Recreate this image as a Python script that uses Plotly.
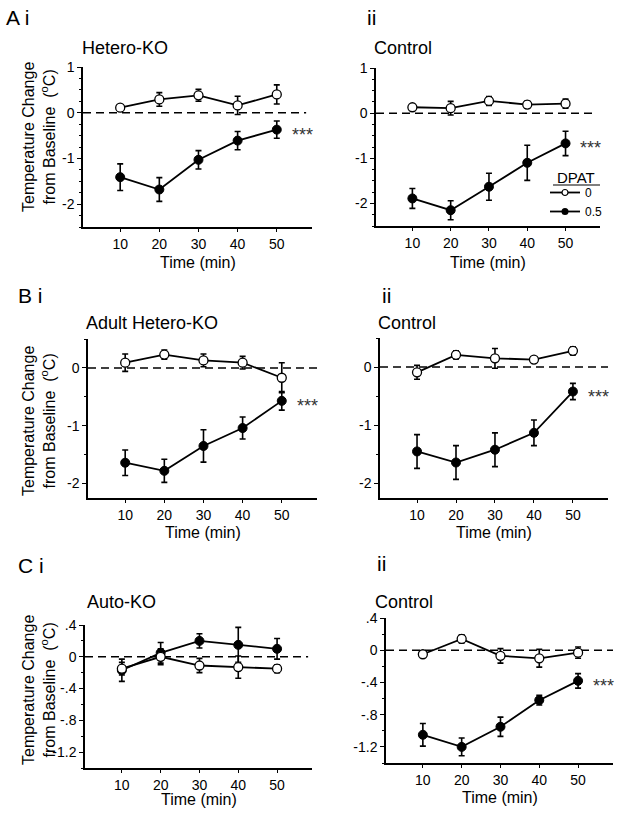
import plotly.graph_objects as go

W, H = 621, 818
FONT = "Arial, Liberation Sans, sans-serif"

time_min = [10, 20, 30, 40, 50]

# Panel A i: Hetero-KO
ai_veh = [0.11, 0.29, 0.38, 0.16, 0.40]
ai_veh_err = [0.06, 0.15, 0.13, 0.20, 0.21]
ai_dpat = [-1.41, -1.68, -1.03, -0.61, -0.37]
ai_dpat_err = [0.29, 0.26, 0.20, 0.20, 0.19]
# Panel A ii: Control
aii_veh = [0.13, 0.11, 0.27, 0.19, 0.21]
aii_veh_err = [0.06, 0.15, 0.10, 0.08, 0.10]
aii_dpat = [-1.89, -2.15, -1.63, -1.10, -0.67]
aii_dpat_err = [0.22, 0.21, 0.30, 0.39, 0.27]
# Panel B i: Adult Hetero-KO
bi_veh = [0.09, 0.23, 0.13, 0.09, -0.17]
bi_veh_err = [0.15, 0.08, 0.11, 0.11, 0.26]
bi_dpat = [-1.64, -1.78, -1.35, -1.04, -0.57]
bi_dpat_err = [0.22, 0.20, 0.28, 0.19, 0.16]
# Panel B ii: Control
bii_veh = [-0.09, 0.21, 0.15, 0.13, 0.28]
bii_veh_err = [0.12, 0.07, 0.17, 0.03, 0.07]
bii_dpat = [-1.45, -1.64, -1.42, -1.13, -0.42]
bii_dpat_err = [0.29, 0.29, 0.29, 0.22, 0.14]
# Panel C i: Auto-KO
ci_veh = [-0.15, 0.00, -0.11, -0.13, -0.15]
ci_veh_err = [0.08, 0.10, 0.09, 0.14, 0.05]
ci_dpat = [-0.17, 0.05, 0.20, 0.15, 0.10]
ci_dpat_err = [0.14, 0.13, 0.09, 0.22, 0.13]
# Panel C ii: Control
cii_veh = [-0.05, 0.14, -0.07, -0.10, -0.03]
cii_veh_err = [0.03, 0.05, 0.09, 0.11, 0.07]
cii_dpat = [-1.05, -1.20, -0.95, -0.62, -0.38]
cii_dpat_err = [0.14, 0.11, 0.12, 0.06, 0.09]

dose_labels = ["0", "0.5"]
legend_title = "DPAT"
x_title = "Time (min)"
y_title = "Temperature Change<br>from Baseline  (<sup>o</sup>C)"
x_ticks = [10, 20, 30, 40, 50]

ticks_A = [1, 0, -1, -2]
ticks_A_text = ["1", "0", "-1", "-2"]
ticks_B = [0, -1, -2]
ticks_B_text = ["0", "-1", "-2"]
ticks_C = [0.4, 0, -0.4, -0.8, -1.2]
ticks_C_text = [".4", "0", "-.4", "-.8", "-1.2"]

panels = [
    dict(letter="A i", title="Hetero-KO", veh=ai_veh, veh_err=ai_veh_err, dpat=ai_dpat, dpat_err=ai_dpat_err,
         sig=True, px=(83, 312), py=(67, 227), yr=[-2.5, 1], tv=ticks_A, tt=ticks_A_text, minor=0.25,
         letter_pos=(4, 17), title_pos=(80, 48), xt_y=262, dash_end=57.5),
    dict(letter="ii", title="Control", veh=aii_veh, veh_err=aii_veh_err, dpat=aii_dpat, dpat_err=aii_dpat_err,
         sig=True, px=(376, 600), py=(68, 226), yr=[-2.5, 1], tv=ticks_A, tt=ticks_A_text, minor=0.25,
         letter_pos=(365, 17), title_pos=(372, 48), xt_y=262, dash_end=58),
    dict(letter="B i", title="Adult Hetero-KO", veh=bi_veh, veh_err=bi_veh_err, dpat=bi_dpat, dpat_err=bi_dpat_err,
         sig=True, px=(88, 317), py=(339, 498), yr=[-2.25, 0.5], tv=ticks_B, tt=ticks_B_text, minor=0.5,
         letter_pos=(16, 295), title_pos=(84, 323), xt_y=532, dash_end=59),
    dict(letter="ii", title="Control", veh=bii_veh, veh_err=bii_veh_err, dpat=bii_dpat, dpat_err=bii_dpat_err,
         sig=True, px=(380, 608), py=(338, 498), yr=[-2.25, 0.5], tv=ticks_B, tt=ticks_B_text, minor=0.5,
         letter_pos=(380, 295), title_pos=(376, 323), xt_y=532, dash_end=59),
    dict(letter="C i", title="Auto-KO", veh=ci_veh, veh_err=ci_veh_err, dpat=ci_dpat, dpat_err=ci_dpat_err,
         sig=False, px=(85, 312), py=(625, 768), yr=[-1.4, 0.4], tv=ticks_C, tt=ticks_C_text, minor=0.2,
         letter_pos=(16, 565), title_pos=(85, 602), xt_y=799, dash_end=58),
    dict(letter="ii", title="Control", veh=cii_veh, veh_err=cii_veh_err, dpat=cii_dpat, dpat_err=cii_dpat_err,
         sig=True, px=(386, 613), py=(618, 763), yr=[-1.4, 0.4], tv=ticks_C, tt=ticks_C_text, minor=0.2,
         letter_pos=(375, 563), title_pos=(373, 602), xt_y=797, dash_end=59),
]

def fx(p):
    return p / W

def fy(p):
    return 1 - p / H

fig = go.Figure()
layout = dict(
    width=W, height=H, margin=dict(l=0, r=0, t=0, b=0, pad=0, autoexpand=False),
    paper_bgcolor="white", plot_bgcolor="white",
    font=dict(family=FONT, color="black", size=14),
    showlegend=True,
)
annotations = []
shapes = []

for i, p in enumerate(panels):
    n = "" if i == 0 else str(i + 1)
    xa, ya = "x" + n, "y" + n
    layout["xaxis" + n] = dict(
        domain=[fx(p["px"][0]), fx(p["px"][1])], range=[0.5, 59], anchor=ya,
        showline=True, linecolor="black", linewidth=1.5, showgrid=False, zeroline=False,
        tickmode="array", tickvals=x_ticks, ticks="outside", ticklen=3, tickwidth=1.2,
        tickcolor="black", tickfont=dict(size=14, family=FONT), fixedrange=True,
        automargin=False,
    )
    layout["yaxis" + n] = dict(
        domain=[fy(p["py"][1]), fy(p["py"][0])], range=p["yr"], anchor=xa,
        showline=True, linecolor="black", linewidth=1.5, showgrid=False, zeroline=False,
        tickmode="array", tickvals=p["tv"], ticktext=p["tt"], ticks="outside", ticklen=4,
        tickwidth=1.2, tickcolor="black", tickfont=dict(size=14, family=FONT),
        minor=dict(tickmode="linear", tick0=0, dtick=p["minor"], ticks="outside",
                   ticklen=2.5, tickwidth=1.2, tickcolor="black", showgrid=False),
        fixedrange=True, automargin=False,
    )
    # DPAT 0.5 (filled)
    fig.add_trace(go.Scatter(
        x=time_min, y=p["dpat"], mode="lines+markers", xaxis=xa, yaxis=ya,
        line=dict(color="black", width=1.8),
        marker=dict(symbol="circle", size=9, color="black", line=dict(color="black", width=1)),
        error_y=dict(type="data", array=p["dpat_err"], color="black", thickness=1.6, width=3),
        showlegend=False, name=dose_labels[1],
    ))
    # DPAT 0 (open)
    fig.add_trace(go.Scatter(
        x=time_min, y=p["veh"], mode="lines+markers", xaxis=xa, yaxis=ya,
        line=dict(color="black", width=1.8),
        marker=dict(symbol="circle", size=9, color="white", line=dict(color="black", width=1.3)),
        error_y=dict(type="data", array=p["veh_err"], color="black", thickness=1.6, width=3),
        showlegend=False, name=dose_labels[0],
    ))
    # zero dashed line
    shapes.append(dict(type="line", xref=xa, yref=ya, x0=0.5, x1=p["dash_end"], y0=0, y1=0,
                       line=dict(color="black", width=1.5, dash="8px,5px"), layer="below"))
    # significance
    if p["sig"]:
        annotations.append(dict(text="***", xref=xa, yref=ya, x=53.3, y=p["dpat"][-1],
                                xanchor="left", yanchor="middle", yshift=-5, showarrow=False,
                                font=dict(size=18, color="#333333", family=FONT)))
    # panel letter
    annotations.append(dict(text=p["letter"], xref="paper", yref="paper",
                            x=fx(p["letter_pos"][0]), y=fy(p["letter_pos"][1]),
                            xanchor="left", yanchor="middle", showarrow=False,
                            font=dict(size=21, family=FONT)))
    # panel title
    annotations.append(dict(text=p["title"], xref="paper", yref="paper",
                            x=fx(p["title_pos"][0]), y=fy(p["title_pos"][1]),
                            xanchor="left", yanchor="middle", showarrow=False,
                            font=dict(size=18, family=FONT)))
    # x title
    annotations.append(dict(text=x_title, xref=xa + " domain", yref="paper", x=0.5, y=fy(p["xt_y"]),
                            xanchor="center", yanchor="middle", showarrow=False,
                            font=dict(size=16, family=FONT)))

# y titles (left column only)
for yc in [137, 421, 690]:
    annotations.append(dict(text=y_title, xref="paper", yref="paper", x=fx(39), y=fy(yc),
                            xanchor="center", yanchor="middle", showarrow=False, textangle=-90,
                            font=dict(size=16, family=FONT)))

# legend-only entries (styled smaller like the reference legend)
fig.add_trace(go.Scatter(x=[None], y=[None], mode="lines+markers", xaxis="x2", yaxis="y2",
                         name=dose_labels[0], line=dict(color="black", width=1.8),
                         marker=dict(size=6, color="white", line=dict(color="black", width=1.2))))
fig.add_trace(go.Scatter(x=[None], y=[None], mode="lines+markers", xaxis="x2", yaxis="y2",
                         name=dose_labels[1], line=dict(color="black", width=1.8),
                         marker=dict(size=7, color="black")))
annotations.append(dict(text=legend_title, xref="paper", yref="paper", x=fx(576), y=fy(178),
                        xanchor="center", yanchor="middle", showarrow=False,
                        font=dict(size=15, family=FONT)))
shapes.append(dict(type="line", xref="paper", yref="paper", x0=fx(553), x1=fx(600),
                   y0=fy(185), y1=fy(185), line=dict(color="black", width=1.2)))

layout["legend"] = dict(x=fx(545), y=fy(178), xanchor="left", yanchor="top",
                        bgcolor="rgba(0,0,0,0)", font=dict(size=12, family=FONT),
                        tracegroupgap=0, itemwidth=30)
layout["annotations"] = annotations
layout["shapes"] = shapes
fig.update_layout(**layout)

# remove the page's default body margin so the 621x818 figure fills the window
fig.write_html("out.html", config={"displayModeBar": False},
               post_script="document.body.style.margin='0px';")
